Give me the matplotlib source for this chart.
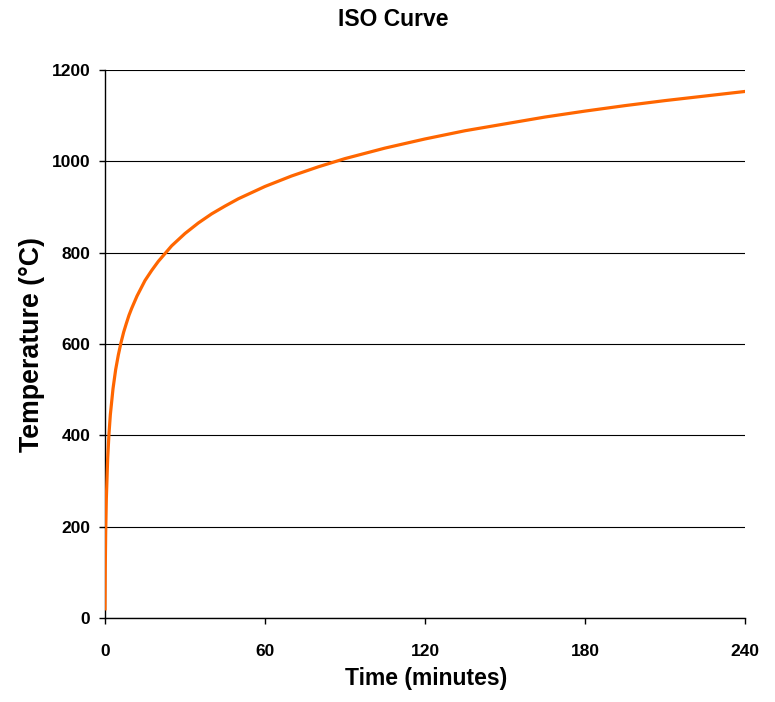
import matplotlib.pyplot as plt

# 시간(분)과 온도(°C) - 그림에서 읽은 값
time_min = [0, 0.1, 0.25, 0.5, 1, 1.5, 2, 3, 4, 5, 6, 7, 8, 9, 10, 12, 15, 17.5, 20, 25, 30, 35,
            40, 45, 50, 60, 70, 80, 90, 105, 120, 135, 150, 165, 180, 195, 210, 225, 240]
temp_c = [20, 108, 185, 261, 349, 404, 445, 502, 544, 576, 603, 626, 645, 663, 678, 705, 739, 761, 781,
          815, 842, 865, 885, 902, 918, 945, 968, 988, 1006, 1029, 1049, 1067, 1082, 1097, 1110, 1122,
          1133, 1143, 1153]
x_ticks = [0, 60, 120, 180, 240]
y_ticks = [0, 200, 400, 600, 800, 1000, 1200]

plt.rcParams['font.family'] = ['Liberation Sans', 'DejaVu Sans']
plt.rcParams['font.weight'] = 'bold'

W, H = 775, 702
fig = plt.figure(figsize=(W / 100, H / 100), dpi=100)
ax = fig.add_axes([105 / W, 1 - 618 / H, 640 / W, 548 / H])

ax.plot(time_min, temp_c, color='#FF6600', linewidth=2.3, zorder=3)

ax.set_xlim(0, 240)
ax.set_ylim(0, 1200)
ax.set_xticks(x_ticks)
ax.set_yticks(y_ticks)
ax.yaxis.grid(True, color='black', linewidth=0.8)
ax.set_axisbelow(True)

for side in ['top', 'right']:
    ax.spines[side].set_visible(False)
for side in ['left', 'bottom']:
    ax.spines[side].set_linewidth(1.0)

ax.tick_params(axis='both', direction='out', length=4.5, width=1, labelsize=12.5)
ax.tick_params(axis='x', pad=14)
ax.tick_params(axis='y', pad=6)
for lbl in ax.get_xticklabels() + ax.get_yticklabels():
    lbl.set_fontweight('bold')

# 제목과 축 이름
fig.text(393 / W, 1 - 26 / H, 'ISO Curve', fontsize=16.5, fontweight='bold',
         ha='center', va='baseline')
fig.text(426 / W, 1 - 685 / H, 'Time (minutes)', fontsize=16.5, fontweight='bold',
         ha='center', va='baseline')
fig.text(32 / W, 1 - 344 / H, 'Temperature (°C)', fontsize=19.3, fontweight='bold',
         rotation=90, ha='center', va='center')

fig.savefig('out.png', dpi=100)
